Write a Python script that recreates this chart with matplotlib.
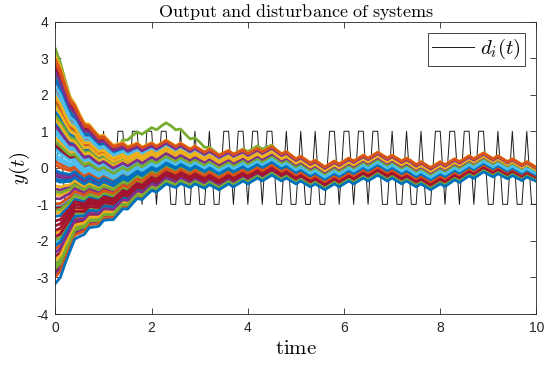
import numpy as np
import matplotlib
matplotlib.use("Agg")
import matplotlib.pyplot as plt

plt.rcParams['font.family'] = ['Liberation Sans', 'DejaVu Sans']
plt.rcParams['mathtext.fontset'] = 'cm'
plt.rcParams['axes.unicode_minus'] = False

# time grid, step 0.1
t = np.linspace(0, 10, 101)

# disturbance d_i(t), sampled square wave
disturbance = [0, 1, -1, -1, 1, -1, -1, 1, -1, -1,
               1, -1, -1, 1, 1, -1, 1, 1, -1, 1,
               1, -1, 1, 1, -1, -1, 1, -1, -1, 1,
               -1, -1, 1, -1, -1, 1, 1, -1, 1, 1,
               -1, 1, 1, -1, 1, 1, -1, -1, 1, -1,
               -1, 1, -1, -1, 1, -1, -1, 1, 1, -1,
               1, 1, -1, 1, 1, -1, 1, 1, -1, -1,
               1, -1, -1, 1, -1, -1, 1, -1, -1, 1,
               1, -1, 1, 1, -1, 1, 1, -1, 1, 1,
               -1, -1, 1, -1, -1, 1, -1, -1, 1, -1,
               -1]

# common ripple shared by all outputs
ripple = [0, .08, 0, -.08, 0, -.08, -.16, -.08, -.16, -.24,
          -.16, -.24, -.32, -.24, -.16, -.24, -.16, -.08, -.16, -.08,
          0, -.08, 0, .08, 0, -.08, 0, -.08, -.16, -.08,
          -.16, -.24, -.16, -.24, -.32, -.24, -.16, -.24, -.16, -.08,
          -.16, -.08, 0, -.08, 0, .08, 0, -.08, 0, -.08,
          -.16, -.08, -.16, -.24, -.16, -.24, -.32, -.24, -.16, -.24,
          -.16, -.08, -.16, -.08, 0, -.08, 0, .08, 0, -.08,
          0, -.08, -.16, -.08, -.16, -.24, -.16, -.24, -.32, -.24,
          -.16, -.24, -.16, -.08, -.16, -.08, 0, -.08, 0, .08,
          0, -.08, 0, -.08, -.16, -.08, -.16, -.24, -.16, -.24,
          -.32]

# upper and lower edge of the bundle (without ripple)
top_edge = [3.05, 2.68, 2.33, 2.02, 1.76, 1.55, 1.38, 1.27, 1.19, 1.12,
            1.05, 0.99, 0.94, 0.89, 0.85, 0.82, 0.79, 0.76, 0.73, 0.71,
            0.69, 0.68, 0.68, 0.68, 0.68, 0.68, 0.68, 0.68, 0.68, 0.68,
            0.68, 0.68, 0.68, 0.68, 0.67, 0.66, 0.64, 0.62, 0.60, 0.58,
            0.56, 0.55, 0.54, 0.53, 0.52, 0.51, 0.49, 0.47, 0.45, 0.43,
            0.41, 0.40, 0.39, 0.38, 0.37, 0.36, 0.35, 0.35, 0.35, 0.35,
            0.35, 0.35, 0.35, 0.35, 0.35, 0.35, 0.35, 0.35, 0.35, 0.35,
            0.35, 0.35, 0.35, 0.35, 0.35, 0.33, 0.33, 0.33, 0.33, 0.33,
            0.33, 0.33, 0.33, 0.33, 0.33, 0.33, 0.33, 0.33, 0.33, 0.33,
            0.33, 0.33, 0.33, 0.33, 0.33, 0.33, 0.33, 0.33, 0.33, 0.33,
            0.33]
bottom_edge = [-3.16, -3.08, -2.62, -2.20, -1.95, -1.80, -1.66, -1.56, -1.46, -1.36,
               -1.28, -1.18, -1.10, -1.03, -0.96, -0.89, -0.82, -0.76, -0.71, -0.66,
               -0.62, -0.58, -0.55, -0.52, -0.49, -0.46, -0.43, -0.40, -0.38, -0.36,
               -0.34, -0.32, -0.30, -0.29, -0.28, -0.28, -0.28, -0.28, -0.28, -0.28,
               -0.28, -0.28, -0.28, -0.28, -0.28, -0.28, -0.28, -0.28, -0.28, -0.28,
               -0.28, -0.28, -0.28, -0.28, -0.28, -0.28, -0.28, -0.28, -0.28, -0.28,
               -0.28, -0.28, -0.28, -0.28, -0.28, -0.28, -0.28, -0.28, -0.28, -0.28,
               -0.28, -0.28, -0.28, -0.28, -0.28, -0.28, -0.28, -0.28, -0.28, -0.28,
               -0.28, -0.27, -0.26, -0.25, -0.24, -0.23, -0.22, -0.21, -0.20, -0.19,
               -0.18, -0.17, -0.16, -0.15, -0.14, -0.13, -0.12, -0.11, -0.09, -0.07,
               -0.05]

# initial outputs y_i(0)
start_values = [-3.16, 2.95, 3.05, 2.61, -2.75, 0.27, -1.88, -0.35, -0.98, 1.95,
                -2.31, 0.71, 2.24, -1.45, -0.07, 2.88, -2.52, 1.13, -0.66, 0.49,
                -1.71, 2.43, -2.98, 1.67, -0.21, -1.16, 0.93, 2.73, -2.12, 0.08,
                1.31, -0.84, -2.63, 2.05, 0.62, -1.33, 1.84, -0.49, -2.89, 1.42,
                0.36, -1.58, 1.53, -2.21, 0.82, -0.13, 2.52, -1.02, -2.42, 1.21,
                0.18, -0.74, 2.34, -1.97, 1.02, -2.81, 0.55, 2.14, -1.24, -0.58,
                1.75, -2.04, 2.81, -0.29, 1.37, -1.79, 0.99, -2.68, 2.66, -1.09]

# one output that leaves the bundle around t = 2
green_outlier = [3.25, 2.88, 2.40, 1.95, 1.66, 1.37, 1.12, 1.09, 0.93, 0.78,
                 0.79, 0.65, 0.52, 0.55, 0.76, 0.76, 0.88, 0.98, 0.92, 1.01,
                 1.10, 1.04, 1.14, 1.23, 1.15, 1.04, 1.06, 0.92, 0.79, 0.82,
                 0.70, 0.56, 0.56, 0.46, 0.36, 0.40, 0.44, 0.36, 0.44, 0.52,
                 0.44, 0.52, 0.60, 0.51, 0.57, 0.62, 0.47, 0.33, 0.27, 0.17,
                 0.07, 0.14, 0.05, -0.04, 0.03, -0.06, -0.15, -0.07, 0.01, -0.07,
                 0.01, 0.09, 0.01, 0.09, 0.17, 0.09, 0.17, 0.25, 0.17, 0.09,
                 0.17, 0.09, 0.01, 0.09, 0.01, -0.09, -0.01, -0.09, -0.17, -0.09,
                 -0.01, -0.09, -0.01, 0.07, -0.01, 0.07, 0.15, 0.07, 0.15, 0.23,
                 0.15, 0.07, 0.15, 0.07, -0.01, 0.07, -0.01, -0.09, -0.01, -0.09,
                 -0.17]

matlab_colors = ['#0072BD', '#D95319', '#EDB120', '#7E2F8E',
                 '#77AC30', '#4DBEEE', '#A2142F']

top = np.array(top_edge) + np.array(ripple)
bottom = np.array(bottom_edge) + np.array(ripple)

fig = plt.figure(figsize=(5.44, 3.66), dpi=100)
ax = fig.add_axes([0.102, 0.142, 0.884, 0.799])

ax.plot(t, disturbance, color='#1a1a1a', lw=0.7, zorder=1, label=r'$d_i(t)$')
ax.plot(t, green_outlier, color=matlab_colors[4], lw=2.0, zorder=2,
        solid_joinstyle='round')

# draw in reverse so the first outputs end up on top
for i in range(len(start_values) - 1, -1, -1):
    frac = (start_values[i] - bottom[0]) / (top[0] - bottom[0])
    y = bottom + frac * (top - bottom)
    ax.plot(t, y, color=matlab_colors[i % 7], lw=2.0, zorder=2,
            solid_joinstyle='round')

ax.set_xlim(0, 10)
ax.set_ylim(-4, 4)
ax.set_xticks([0, 2, 4, 6, 8, 10])
ax.set_yticks([-4, -3, -2, -1, 0, 1, 2, 3, 4])

axc = '#262626'
for s in ax.spines.values():
    s.set_color(axc)
    s.set_linewidth(0.6)
ax.tick_params(direction='in', top=True, right=True, length=4, width=0.6,
               colors=axc, labelsize=10, pad=5)

ax.set_title(r'$\mathrm{Output\ and\ disturbance\ of\ systems}$',
             fontsize=13, pad=3, color='black')
ax.set_xlabel(r'$\mathrm{time}$', fontsize=15, labelpad=3)
ax.set_ylabel(r'$y(t)$', fontsize=15, labelpad=3)

leg = ax.legend(loc='upper right', fontsize=15, handlelength=2.0,
                handletextpad=0.3, borderpad=0.2, fancybox=False,
                framealpha=1, borderaxespad=0.55)
leg.get_frame().set_edgecolor(axc)
leg.get_frame().set_linewidth(0.6)

fig.savefig('out.png', dpi=100)
